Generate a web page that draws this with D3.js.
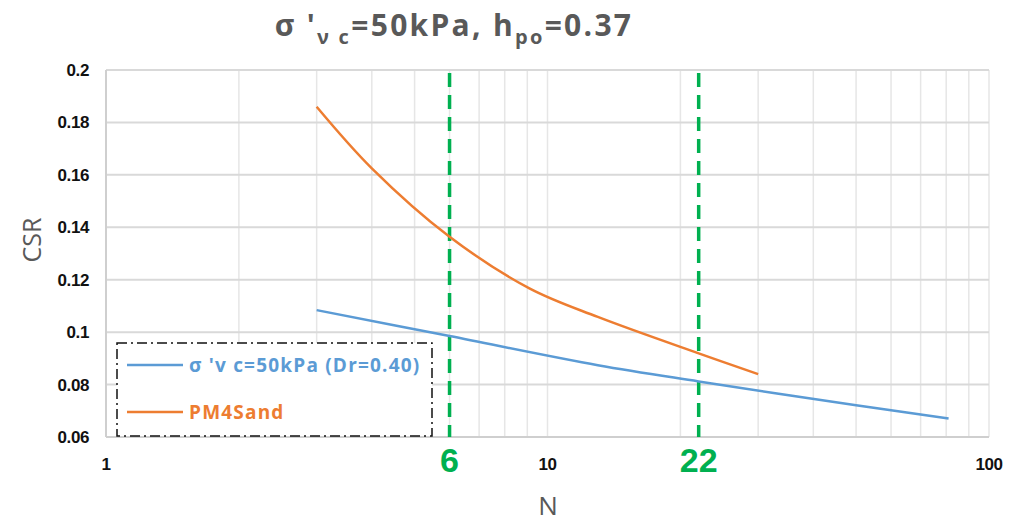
<!DOCTYPE html>
<html><head><meta charset="utf-8">
<script src="https://cdn.jsdelivr.net/npm/d3@7"></script>
<style>body{margin:0;background:#fff}svg{display:block}</style>
</head><body><svg id="c" width="1013" height="522"></svg>
<script>
const blueN   = [3, 6, 13, 22, 50, 81];
const blueCSR = [0.1084, 0.0985, 0.0874, 0.0812, 0.0721, 0.0671];
const orangeN   = [3, 4, 6, 9.1, 13, 22, 30];
const orangeCSR = [0.186, 0.1625, 0.1364, 0.1167, 0.1058, 0.0919, 0.084];
const markerN = [6, 22];
const xTicks = [1, 10, 100];
const yTicks = [0.06, 0.08, 0.1, 0.12, 0.14, 0.16, 0.18, 0.2];
const seriesNames = ["σ 'v c=50kPa (Dr=0.40)", "PM4Sand"];

const svg = d3.select("#c");
const L = 106, R = 989, T = 70, B = 437;
const x = d3.scaleLog().domain([1, 100]).range([L, R]);
const y = d3.scaleLinear().domain([0.06, 0.2]).range([B, T]);

// vertical minor grid
const minor = [];
for (let d = 1; d < 100; d *= 10) for (let k = 2; k <= 10; k++) minor.push(d * k);
svg.append("g").selectAll("line").data(minor).join("line")
  .attr("x1", d => x(d)).attr("x2", d => x(d)).attr("y1", T).attr("y2", B)
  .attr("stroke", "#e6e6e6").attr("stroke-width", 1.5);
// horizontal grid
svg.append("g").selectAll("line").data(yTicks).join("line")
  .attr("x1", L).attr("x2", R).attr("y1", d => y(d)).attr("y2", d => y(d))
  .attr("stroke", "#d9d9d9").attr("stroke-width", 2);
// axes lines
svg.append("line").attr("x1", L).attr("x2", L).attr("y1", T).attr("y2", B).attr("stroke", "#cfcfcf").attr("stroke-width", 2);
svg.append("line").attr("x1", L).attr("x2", R).attr("y1", B).attr("y2", B).attr("stroke", "#cfcfcf").attr("stroke-width", 2);

const tickFont = "Liberation Sans Narrow, Liberation Sans, Arial, sans-serif";
// y tick labels
svg.append("g").selectAll("text").data(yTicks).join("text")
  .attr("x", 89).attr("y", d => y(d) + 6).attr("text-anchor", "end")
  .attr("font-family", tickFont).attr("font-weight", "bold")
  .attr("font-size", 17).attr("letter-spacing", -0.4).attr("fill", "#111")
  .text(d => d3.format("~g")(d));
// x tick labels
svg.append("g").selectAll("text").data(xTicks).join("text")
  .attr("x", d => x(d)).attr("y", 470).attr("text-anchor", "middle")
  .attr("font-family", tickFont).attr("font-weight", "bold")
  .attr("font-size", 17).attr("letter-spacing", -0.4).attr("fill", "#111")
  .text(d => d);

// green dashed markers
svg.append("g").selectAll("line").data(markerN).join("line")
  .attr("x1", d => x(d)).attr("x2", d => x(d)).attr("y1", T + 3).attr("y2", B)
  .attr("stroke", "#00B050").attr("stroke-width", 3.5).attr("stroke-dasharray", "14,8");
svg.append("g").selectAll("text").data(markerN).join("text")
  .attr("x", d => x(d)).attr("y", 472).attr("text-anchor", "middle")
  .attr("font-family", tickFont).attr("font-weight", "bold")
  .attr("font-size", 34).attr("fill", "#00B050").text(d => d);

// lines
const line = d3.line().x(d => x(d[0])).y(d => y(d[1])).curve(d3.curveCatmullRom.alpha(0.5));
svg.append("path").datum(blueN.map((n, i) => [n, blueCSR[i]]))
  .attr("d", line).attr("fill", "none").attr("stroke", "#5B9BD5").attr("stroke-width", 2.5);
svg.append("path").datum(orangeN.map((n, i) => [n, orangeCSR[i]]))
  .attr("d", line).attr("fill", "none").attr("stroke", "#ED7D31").attr("stroke-width", 2.5);

// legend
const lg = svg.append("g");
lg.append("rect").attr("x", 117).attr("y", 343).attr("width", 315).attr("height", 93)
  .attr("fill", "#fff").attr("stroke", "#111").attr("stroke-width", 1.5).attr("stroke-dasharray", "10,4,2,4");
const legColors = ["#5B9BD5", "#ED7D31"];
seriesNames.forEach((s, i) => {
  const yy = 365 + i * 47;
  lg.append("line").attr("x1", 127).attr("x2", 183).attr("y1", yy).attr("y2", yy)
    .attr("stroke", legColors[i]).attr("stroke-width", 2.5);
  lg.append("text").attr("x", 189).attr("y", yy + 7)
    .attr("font-family", "Open Sans, Liberation Sans, Arial, sans-serif").attr("font-weight", "bold")
    .attr("font-size", 19).attr("letter-spacing", 1.2).attr("fill", legColors[i]).text(s);
});

// title
const t = svg.append("text").attr("x", 454).attr("y", 36).attr("text-anchor", "middle")
  .attr("font-family", "Open Sans, Liberation Sans, Arial, sans-serif").attr("font-weight", "bold")
  .attr("font-size", 30).attr("letter-spacing", 2.3).attr("fill", "#595959");
t.append("tspan").text("σ '");
t.append("tspan").attr("font-size", 20).attr("dy", 8).text("ν c");
t.append("tspan").attr("dy", -8).text("=50kPa, h");
t.append("tspan").attr("font-size", 20).attr("dy", 8).text("po");
t.append("tspan").attr("dy", -8).text("=0.37");

// axis titles
svg.append("text").attr("transform", "translate(41,240) rotate(-90)").attr("text-anchor", "middle")
  .attr("font-family", "Open Sans, Liberation Sans, Arial, sans-serif").attr("font-size", 25)
  .attr("fill", "#595959").text("CSR");
svg.append("text").attr("x", 548).attr("y", 515).attr("text-anchor", "middle")
  .attr("font-family", "Open Sans, Liberation Sans, Arial, sans-serif").attr("font-size", 26)
  .attr("fill", "#595959").text("N");
</script></body></html>
